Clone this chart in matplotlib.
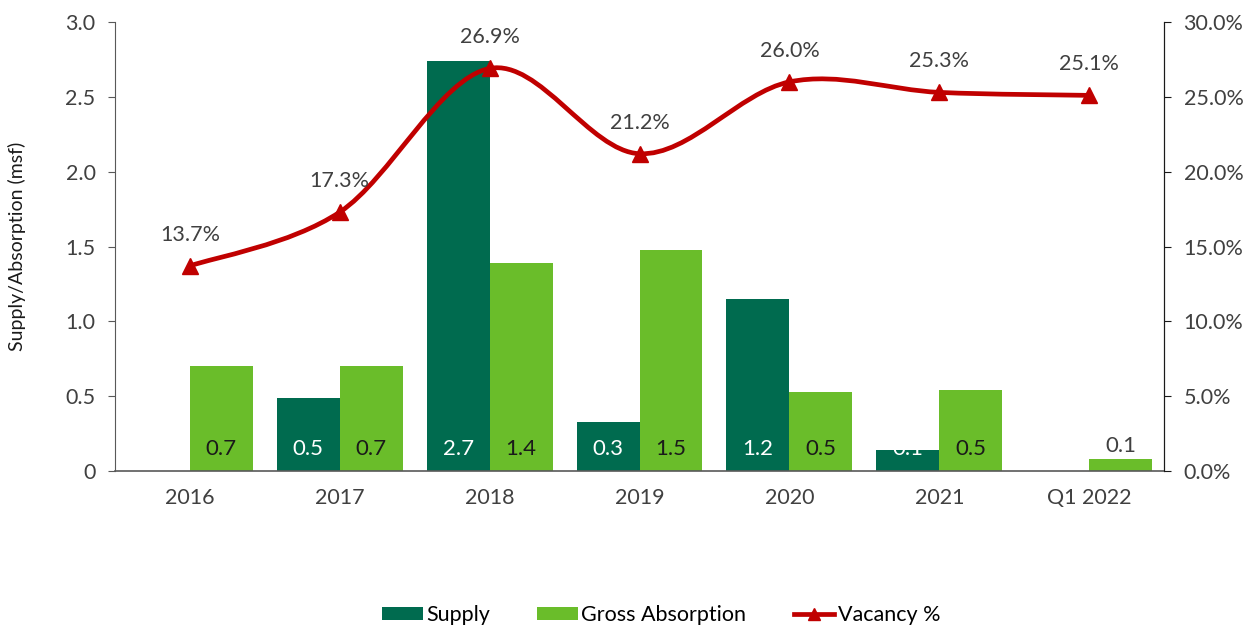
import matplotlib
matplotlib.use("Agg")
import matplotlib.pyplot as plt
from matplotlib.path import Path
from matplotlib.patches import PathPatch, Patch
from matplotlib.lines import Line2D
import numpy as np

categories = ["2016", "2017", "2018", "2019", "2020", "2021", "Q1 2022"]
supply = [0.0, 0.49, 2.74, 0.33, 1.15, 0.14, 0.0]
absorption = [0.70, 0.70, 1.39, 1.48, 0.53, 0.54, 0.08]
supply_labels = ["0", "0.5", "2.7", "0.3", "1.2", "0.1", "0"]
absorption_labels = ["0.7", "0.7", "1.4", "1.5", "0.5", "0.5", "0.1"]
vacancy = [13.7, 17.3, 26.9, 21.2, 26.0, 25.3, 25.1]

DARK = "#006B4F"
LIGHT = "#6ABD2A"
RED = "#C00000"
TXT = "#404040"

plt.rcParams["font.family"] = ["Lato", "DejaVu Sans"]

fig = plt.figure(figsize=(12.59, 6.30), dpi=100)
ax = fig.add_axes([0.0913, 0.2524, 0.8333, 0.7126])
ax2 = ax.twinx()

x = np.arange(len(categories))
w = 0.42
ax.bar(x - w / 2, supply, w, color=DARK, zorder=2)
ax.bar(x + w / 2, absorption, w, color=LIGHT, zorder=2)

for i in range(len(categories)):
    ax.text(x[i] - w / 2, 0.15, supply_labels[i], ha="center", va="center",
            color="white", fontsize=16, zorder=3)
    if absorption[i] < 0.2:
        ax.text(x[i] + w / 2, absorption[i] + 0.02, absorption_labels[i], ha="center",
                va="bottom", color=TXT, fontsize=16, zorder=3)
    else:
        ax.text(x[i] + w / 2, 0.15, absorption_labels[i], ha="center", va="center",
                color="#1a1a1a", fontsize=16, zorder=3)

ax.set_xlim(-0.5, len(categories) - 0.5)
ax.set_ylim(0, 3.0)
ax.set_yticks([0, 0.5, 1.0, 1.5, 2.0, 2.5, 3.0])
ax.set_yticklabels(["0", "0.5", "1.0", "1.5", "2.0", "2.5", "3.0"])
ax.set_xticks(x)
ax.set_xticklabels(categories)
ax.tick_params(axis="x", length=0, pad=12, labelsize=15.5, labelcolor=TXT)
ax.tick_params(axis="y", labelsize=15.5, labelcolor=TXT, color="#595959", length=5, pad=9)
ax.set_ylabel("Supply/Absorption (msf)", fontsize=14, color="#1a1a1a", labelpad=28)
ax.spines["top"].set_visible(False)
ax2.spines["top"].set_visible(False)
ax.spines["left"].set_color("#595959")
ax.spines["bottom"].set_color("#595959")
ax.spines["bottom"].set_linewidth(1.2)
ax2.spines["right"].set_color("#1a1a1a")
ax2.spines["left"].set_visible(False)
ax2.spines["bottom"].set_visible(False)

# smoothed vacancy line (Bezier through the data points)
pts = list(zip(x.astype(float), vacancy))
verts = [pts[0]]
codes = [Path.MOVETO]
n = len(pts)
for i in range(n - 1):
    p0 = np.array(pts[i - 1] if i > 0 else pts[i])
    p1 = np.array(pts[i])
    p2 = np.array(pts[i + 1])
    p3 = np.array(pts[i + 2] if i + 2 < n else pts[i + 1])
    c1 = p1 + (p2 - p0) / 6
    c2 = p2 - (p3 - p1) / 6
    verts += [tuple(c1), tuple(c2), tuple(p2)]
    codes += [Path.CURVE4] * 3
ax2.add_patch(PathPatch(Path(verts, codes), facecolor="none", edgecolor=RED,
                        linewidth=3.4, zorder=4))
ax2.plot(x, vacancy, linestyle="none", marker="^", markersize=11, color=RED, zorder=5)
for i, v in enumerate(vacancy):
    ax2.text(x[i], v + 1.4, f"{v:.1f}%", ha="center", va="bottom", fontsize=15.5,
             color=TXT, zorder=6)

ax2.set_ylim(0, 30)
ax2.set_yticks([0, 5, 10, 15, 20, 25, 30])
ax2.set_yticklabels([f"{t:.1f}%" for t in [0, 5, 10, 15, 20, 25, 30]])
ax2.tick_params(axis="y", labelsize=15.5, labelcolor=TXT, color="#1a1a1a", length=5, pad=9)
ax.set_zorder(0)
ax.patch.set_visible(False)
ax2.set_zorder(1)

handles = [
    Patch(facecolor=DARK, label="Supply"),
    Patch(facecolor=LIGHT, label="Gross Absorption"),
    Line2D([0], [0], color=RED, linewidth=3.4, marker="^", markersize=9, label="Vacancy %"),
]
fig.legend(handles=handles, loc="center", bbox_to_anchor=(0.525, 0.024), ncol=3,
           frameon=False, fontsize=15.5, handlelength=1.9, handleheight=0.55,
           columnspacing=2.2, handletextpad=0.15)

fig.savefig("out.png", dpi=100)
plt.close(fig)
